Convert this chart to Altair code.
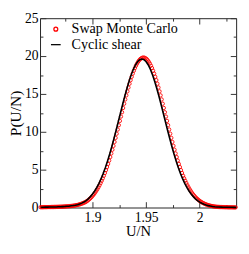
import altair as alt
import pandas as pd

# ---- data ----
series = ["Swap Monte Carlo", "Cyclic shear"]

swap_x = [
    1.8515, 1.8525, 1.8535, 1.8545, 1.8555, 1.8565, 1.8575, 1.8585, 1.8595, 1.8605,
    1.8615, 1.8625, 1.8635, 1.8645, 1.8655, 1.8665, 1.8675, 1.8685, 1.8695, 1.8705,
    1.8715, 1.8725, 1.8735, 1.8745, 1.8755, 1.8765, 1.8775, 1.8785, 1.8795, 1.8805,
    1.8815, 1.8825, 1.8835, 1.8845, 1.8855, 1.8865, 1.8875, 1.8885, 1.8895, 1.8905,
    1.8915, 1.8925, 1.8935, 1.8945, 1.8955, 1.8965, 1.8975, 1.8985, 1.8995, 1.9005,
    1.9015, 1.9025, 1.9035, 1.9045, 1.9055, 1.9065, 1.9075, 1.9085, 1.9095, 1.9105,
    1.9115, 1.9125, 1.9135, 1.9145, 1.9155, 1.9165, 1.9175, 1.9185, 1.9195, 1.9205,
    1.9215, 1.9225, 1.9235, 1.9245, 1.9255, 1.9265, 1.9275, 1.9285, 1.9295, 1.9305,
    1.9315, 1.9325, 1.9335, 1.9345, 1.9355, 1.9365, 1.9375, 1.9385, 1.9395, 1.9405,
    1.9415, 1.9425, 1.9435, 1.9445, 1.9455, 1.9465, 1.9475, 1.9485, 1.9495, 1.9505,
    1.9515, 1.9525, 1.9535, 1.9545, 1.9555, 1.9565, 1.9575, 1.9585, 1.9595, 1.9605,
    1.9615, 1.9625, 1.9635, 1.9645, 1.9655, 1.9665, 1.9675, 1.9685, 1.9695, 1.9705,
    1.9715, 1.9725, 1.9735, 1.9745, 1.9755, 1.9765, 1.9775, 1.9785, 1.9795, 1.9805,
    1.9815, 1.9825, 1.9835, 1.9845, 1.9855, 1.9865, 1.9875, 1.9885, 1.9895, 1.9905,
    1.9915, 1.9925, 1.9935, 1.9945, 1.9955, 1.9965, 1.9975, 1.9985, 1.9995, 2.0005,
    2.0015, 2.0025, 2.0035, 2.0045, 2.0055, 2.0065, 2.0075, 2.0085, 2.0095, 2.0105,
    2.0115, 2.0125, 2.0135, 2.0145, 2.0155, 2.0165, 2.0175, 2.0185, 2.0195, 2.0205,
    2.0215, 2.0225, 2.0235, 2.0245, 2.0255, 2.0265, 2.0275, 2.0285, 2.0295, 2.0305,
    2.0315, 2.0325, 2.0335,
]
swap_y = [
    0.04, 0.04, 0.04, 0.05, 0.05, 0.05, 0.05, 0.06, 0.06, 0.06,
    0.07, 0.07, 0.07, 0.08, 0.08, 0.09, 0.09, 0.10, 0.10, 0.11,
    0.11, 0.12, 0.13, 0.14, 0.15, 0.16, 0.17, 0.18, 0.19, 0.21,
    0.23, 0.25, 0.27, 0.30, 0.33, 0.36, 0.40, 0.44, 0.49, 0.54,
    0.60, 0.66, 0.73, 0.82, 0.92, 1.04, 1.16, 1.30, 1.45, 1.62,
    1.80, 1.99, 2.21, 2.43, 2.68, 2.94, 3.23, 3.53, 3.85, 4.19,
    4.56, 4.94, 5.34, 5.76, 6.20, 6.66, 7.14, 7.63, 8.14, 8.66,
    9.20, 9.75, 10.30, 10.87, 11.44, 12.01, 12.58, 13.15, 13.71, 14.27,
    14.81, 15.34, 15.85, 16.35, 16.82, 17.26, 17.68, 18.06, 18.41, 18.73,
    19.01, 19.25, 19.44, 19.60, 19.71, 19.78, 19.80, 19.78, 19.71, 19.60,
    19.44, 19.25, 19.01, 18.73, 18.41, 18.06, 17.68, 17.26, 16.82, 16.35,
    15.85, 15.34, 14.81, 14.27, 13.71, 13.15, 12.58, 12.01, 11.44, 10.87,
    10.30, 9.75, 9.20, 8.66, 8.14, 7.63, 7.14, 6.66, 6.20, 5.76,
    5.34, 4.94, 4.56, 4.19, 3.85, 3.53, 3.23, 2.94, 2.68, 2.43,
    2.21, 1.99, 1.80, 1.62, 1.45, 1.30, 1.16, 1.04, 0.92, 0.82,
    0.73, 0.64, 0.57, 0.50, 0.44, 0.38, 0.33, 0.29, 0.25, 0.22,
    0.19, 0.16, 0.14, 0.12, 0.10, 0.09, 0.08, 0.07, 0.06, 0.06,
    0.05, 0.05, 0.04, 0.04, 0.04, 0.03, 0.03, 0.03, 0.03, 0.03,
    0.02, 0.02, 0.02,
]

shear_x = [
    1.852, 1.854, 1.856, 1.858, 1.860, 1.862, 1.864, 1.866, 1.868, 1.870,
    1.872, 1.874, 1.876, 1.878, 1.880, 1.882, 1.884, 1.886, 1.888, 1.890,
    1.892, 1.894, 1.896, 1.898, 1.900, 1.902, 1.904, 1.906, 1.908, 1.910,
    1.912, 1.914, 1.916, 1.918, 1.920, 1.922, 1.924, 1.926, 1.928, 1.930,
    1.932, 1.934, 1.936, 1.938, 1.940, 1.942, 1.944, 1.946, 1.948, 1.950,
    1.952, 1.954, 1.956, 1.958, 1.960, 1.962, 1.964, 1.966, 1.968, 1.970,
    1.972, 1.974, 1.976, 1.978, 1.980, 1.982, 1.984, 1.986, 1.988, 1.990,
    1.992, 1.994, 1.996, 1.998, 2.000, 2.002, 2.004, 2.006, 2.008, 2.010,
    2.012, 2.014, 2.016, 2.018, 2.020, 2.022, 2.024, 2.026, 2.028, 2.030,
    2.032, 2.034,
]
shear_y = [
    0.04, 0.04, 0.05, 0.05, 0.06, 0.07, 0.07, 0.08, 0.09, 0.10,
    0.12, 0.14, 0.16, 0.18, 0.22, 0.26, 0.31, 0.38, 0.47, 0.58,
    0.72, 0.91, 1.15, 1.44, 1.78, 2.18, 2.65, 3.19, 3.81, 4.51,
    5.28, 6.14, 7.06, 8.06, 9.11, 10.20, 11.32, 12.45, 13.57, 14.66,
    15.69, 16.65, 17.50, 18.23, 18.82, 19.25, 19.51, 19.60, 19.51, 19.25,
    18.82, 18.23, 17.50, 16.65, 15.69, 14.66, 13.57, 12.45, 11.32, 10.20,
    9.11, 8.06, 7.06, 6.14, 5.28, 4.51, 3.81, 3.19, 2.65, 2.18,
    1.78, 1.44, 1.15, 0.91, 0.72, 0.56, 0.43, 0.33, 0.25, 0.19,
    0.14, 0.10, 0.08, 0.06, 0.05, 0.04, 0.04, 0.03, 0.03, 0.03,
    0.02, 0.02,
]

x_domain = [1.851, 2.034]
y_domain = [0, 25]
x_labels = [1.9, 1.95, 2.0]
x_major = [1.9, 1.95, 2.0]
x_minor = [1.875, 1.925, 1.975, 2.025]
y_labels = [0, 5, 10, 15, 20, 25]
y_major = [0, 5, 10, 15, 20, 25]
y_minor = [2.5, 7.5, 12.5, 17.5, 22.5]

# ---- layout ----
FONT = "Liberation Serif"
TICK = "#333333"

swap_df = pd.DataFrame({"x": swap_x, "y": swap_y, "series": series[0]})
shear_df = pd.DataFrame({"x": shear_x, "y": shear_y, "series": series[1]})

xscale = alt.Scale(domain=x_domain, nice=False, zero=False)
yscale = alt.Scale(domain=y_domain, nice=False, zero=False)

inner = dict(labels=False, title=None, domain=False, grid=False, ticks=True,
             tickColor=TICK, tickWidth=1, minExtent=0)


def x_inner(orient, values, size):
    return alt.Axis(orient=orient, offset={"expr": "-height"}, values=values,
                    tickSize=size, **inner)


def y_inner(orient, values, size):
    return alt.Axis(orient=orient, offset={"expr": "-width"}, values=values,
                    tickSize=size, **inner)


x_main = alt.Axis(orient="bottom", values=x_labels, format="~g", ticks=False,
                  domain=False, grid=False, labelFont=FONT, labelFontSize=14,
                  labelColor="black", labelPadding=3, title="U/N",
                  titleFont=FONT, titleFontSize=15, titleFontWeight="normal",
                  titleColor="black", titlePadding=0)
y_main = alt.Axis(orient="left", values=y_labels, format="d", ticks=False,
                  domain=False, grid=False, labelFont=FONT, labelFontSize=14,
                  labelColor="black", labelPadding=2, title="P(U/N)",
                  titleFont=FONT, titleFontSize=16, titleFontWeight="normal",
                  titleColor="black", titlePadding=1, minExtent=0)

legend = alt.Legend(orient="none", legendX=9, legendY=4, title=None,
                    labelFont=FONT, labelFontSize=14.5, labelColor="black",
                    symbolSize=16, symbolStrokeWidth=1.3, labelOffset=9,
                    rowPadding=1, padding=0)

points = alt.Chart(swap_df).mark_point(
    filled=False, size=12, strokeWidth=0.9, opacity=1
).encode(
    x=alt.X("x:Q", scale=xscale, axis=x_main),
    y=alt.Y("y:Q", scale=yscale, axis=y_main),
    color=alt.Color("series:N", legend=legend,
                    scale=alt.Scale(domain=series, range=["#ff0000", "#000000"])),
    shape=alt.Shape("series:N", legend=legend,
                    scale=alt.Scale(domain=series, range=["circle", "M-2.5,0H2.5"])),
)

line = alt.Chart(shear_df).mark_line(color="black", strokeWidth=1.6).encode(
    x=alt.X("x:Q", scale=xscale, axis=x_inner("top", x_major, 6)),
    y=alt.Y("y:Q", scale=yscale, axis=y_inner("right", y_major, 6)),
)


def tick_layer(x_axis, y_axis):
    return alt.Chart(shear_df).mark_line(strokeOpacity=0).encode(
        x=alt.X("x:Q", scale=xscale, axis=x_axis),
        y=alt.Y("y:Q", scale=yscale, axis=y_axis),
    )


t1 = tick_layer(x_inner("bottom", x_major, 6), y_inner("left", y_major, 6))
t2 = tick_layer(x_inner("top", x_minor, 3), y_inner("right", y_minor, 3))
t3 = tick_layer(x_inner("bottom", x_minor, 3), y_inner("left", y_minor, 3))

chart = alt.layer(points, line, t1, t2, t3).resolve_axis(
    x="independent", y="independent"
).properties(
    width=240, height=234,
    autosize=alt.AutoSizeParams(type="fit", contains="padding"),
    padding={"left": 0, "top": 0, "right": 1, "bottom": 0},
).configure_view(stroke="#222222", strokeWidth=1)

chart.save("out.html", embed_options={"renderer": "svg", "actions": False})
